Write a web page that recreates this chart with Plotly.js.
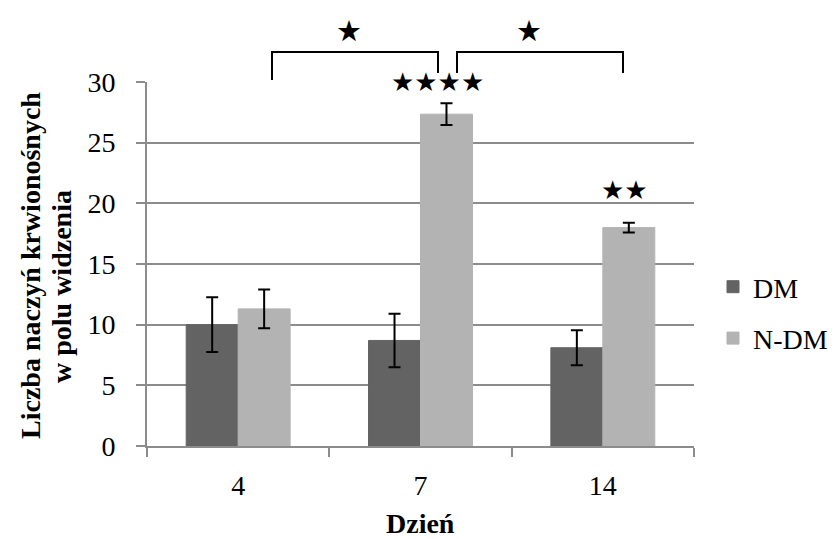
<!DOCTYPE html>
<html><head><meta charset="utf-8">
<script src="https://cdn.plot.ly/plotly-3.0.1.min.js"></script>
<style>body{margin:0;background:#fff}#chart{width:837px;height:539px}</style>
</head><body><div id="chart"></div>
<script>
const days = ["4", "7", "14"];
const dmValues = [10.0, 8.7, 8.1];
const dmErrors = [2.25, 2.2, 1.45];
const ndmValues = [11.3, 27.35, 18.0];
const ndmErrors = [1.6, 0.9, 0.4];
const seriesNames = ["DM", "N-DM"];
const yTicks = [0, 5, 10, 15, 20, 25, 30];
const yTitleLines = ["Liczba naczyń krwionośnych", "w polu widzenia"];
const xTitle = "Dzień";
const starGroups = [{day: "7", text: "★★★★"}, {day: "14", text: "★★"}];

const serif = "Liberation Serif, Times New Roman, serif";
const errStyle = {type: "data", visible: true, color: "#000", thickness: 2, width: 6};

const traces = [
  {type: "bar", name: seriesNames[0], x: days, y: dmValues, legendgroup: "a",
   marker: {color: "#636363", line: {color: "#636363", width: 1}},
   error_y: Object.assign({array: dmErrors}, errStyle)},
  {type: "bar", name: seriesNames[1], x: days, y: ndmValues, legendgroup: "b",
   marker: {color: "#b3b3b3", line: {color: "#b3b3b3", width: 1}},
   error_y: Object.assign({array: ndmErrors}, errStyle)}
];

const W = 837, H = 539;
const L = 147, R = 694, T = 82, B = 446;
const px = v => (v - L) / (R - L);
const py = v => (B - v) / (B - T);

const bracket = (x0, x1, yTop, yl, yr) => ({
  type: "path", xref: "paper", yref: "paper",
  path: `M ${px(x0)} ${py(yl)} L ${px(x0)} ${py(yTop)} L ${px(x1)} ${py(yTop)} L ${px(x1)} ${py(yr)}`,
  line: {color: "#000", width: 2}
});

const star = (o, size) => Object.assign({showarrow: false,
  font: {family: "DejaVu Sans", size: size, color: "#000"},
  xanchor: "center", yanchor: "middle"}, o);

const annotations = [
  star({xref: "paper", yref: "paper", x: px(349), y: py(31), text: "★"}, 29),
  star({xref: "paper", yref: "paper", x: px(529), y: py(31), text: "★"}, 29)
];
// significance stars above N-DM bars
const starShift = {"7": [17, 21], "14": [22, 33]};
starGroups.forEach(g => {
  const i = days.indexOf(g.day);
  annotations.push(star({
    xref: "x", yref: "y", x: i, xshift: starShift[g.day][0],
    y: ndmValues[i] + ndmErrors[i], yshift: starShift[g.day][1], text: g.text
  }, 26));
});
// axis titles
const titleFont = {family: serif, size: 28, color: "#000"};
annotations.push({xref: "paper", yref: "paper", x: px(30), y: py(266), text: "<b>" + yTitleLines[0] + "</b>",
  textangle: -90, showarrow: false, font: titleFont, xanchor: "center", yanchor: "middle"});
annotations.push({xref: "paper", yref: "paper", x: px(61), y: py(287), text: "<b>" + yTitleLines[1] + "</b>",
  textangle: -90, showarrow: false, font: titleFont, xanchor: "center", yanchor: "middle"});
annotations.push({xref: "paper", yref: "paper", x: 0.5, y: py(523), text: "<b>" + xTitle + "</b>",
  showarrow: false, font: titleFont, xanchor: "center", yanchor: "middle"});

const layout = {
  width: W, height: H,
  margin: {l: L, r: W - R, t: T, b: H - B, autoexpand: false},
  paper_bgcolor: "#fff", plot_bgcolor: "#fff",
  barmode: "group", bargap: 0.43, bargroupgap: 0,
  font: {family: serif, size: 28, color: "#000"},
  xaxis: {
    type: "category", range: [-0.5, 2.5], autorange: false, fixedrange: true, automargin: false,
    showline: true, linecolor: "#8c8c8c", linewidth: 2,
    ticks: "outside", tickson: "boundaries", ticklen: 9, tickcolor: "#8c8c8c", tickwidth: 2,
    ticklabelstandoff: 13, tickangle: 0
  },
  yaxis: {
    range: [0, 30], autorange: false, tickvals: yTicks, automargin: false,
    showline: true, linecolor: "#8c8c8c", linewidth: 2,
    showgrid: true, gridcolor: "#8c8c8c", gridwidth: 2, zeroline: false,
    ticks: "outside", ticklen: 9, tickcolor: "#8c8c8c", tickwidth: 2, ticklabelstandoff: 15
  },
  showlegend: true,
  legend: {x: px(713), y: py(262), xanchor: "left", yanchor: "top",
    font: {family: serif, size: 28}, tracegroupgap: 12, itemwidth: 30, traceorder: "grouped"},
  shapes: [bracket(272, 438, 52, 80, 73), bracket(457, 623, 52, 73, 73)],
  annotations: annotations
};

Plotly.newPlot("chart", traces, layout, {displayModeBar: false, staticPlot: true});
</script></body></html>
